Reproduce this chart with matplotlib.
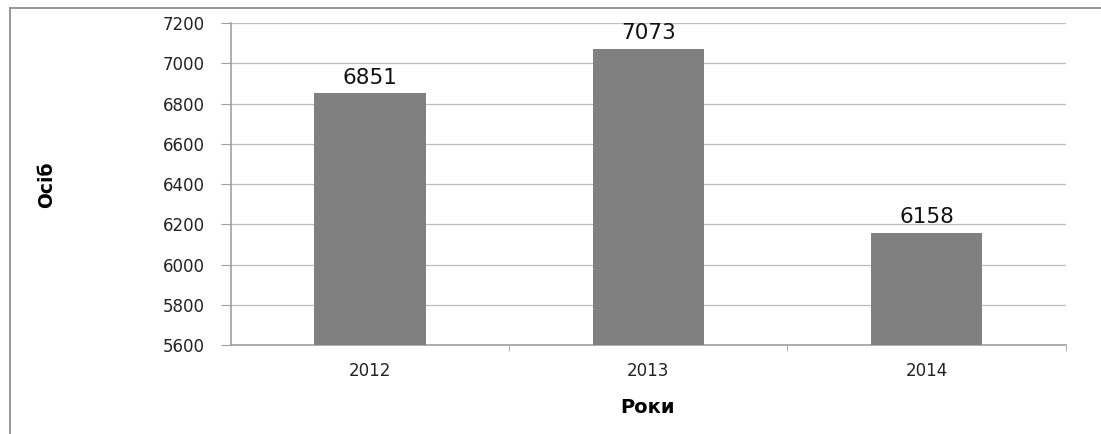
import matplotlib.pyplot as plt
from matplotlib.lines import Line2D

roky = ['2012', '2013', '2014']
osib = [6851, 7073, 6158]
y_ticks = [5600, 5800, 6000, 6200, 6400, 6600, 6800, 7000, 7200]

fig = plt.figure(figsize=(11.01, 4.34), dpi=100)
ax = fig.add_axes([0.2098, 0.205, 0.758, 0.742])

x = range(len(roky))
bars = ax.bar(x, osib, width=0.4, color='#808080', zorder=3)

ax.set_ylim(5600, 7200)
ax.set_xlim(-0.5, len(roky) - 0.5)
ax.set_yticks(y_ticks)
ax.set_yticklabels([str(v) for v in y_ticks], fontsize=12, color='#222222')
ax.set_xticks(list(x))
ax.set_xticklabels(roky, fontsize=12, color='#222222')
ax.set_xticks([0.5, 1.5, 2.5], minor=True)
ax.tick_params(axis='x', which='major', length=0, pad=12)
ax.tick_params(axis='x', which='minor', length=4, color='#a0a0a0', direction='out')
ax.tick_params(axis='y', length=7, color='#a0a0a0', pad=12)

ax.grid(axis='y', color='#bdbdbd', linewidth=0.9, zorder=0)
for s in ['top', 'right']:
    ax.spines[s].set_visible(False)
for s in ['left', 'bottom']:
    ax.spines[s].set_color('#a0a0a0')
    ax.spines[s].set_linewidth(1.2)

for b, v in zip(bars, osib):
    ax.annotate(str(v), (b.get_x() + b.get_width() / 2, v), xytext=(0, 4),
                textcoords='offset points', ha='center', va='bottom',
                fontsize=15.5, color='#111111')

fig.text(0.042, 0.574, 'Осіб', rotation=90, ha='center', va='center',
         fontsize=13.5, fontweight='bold')
fig.text(0.588, 0.062, 'Роки', ha='center', va='center',
         fontsize=14, fontweight='bold')

# рамка зліва і зверху
fig.add_artist(Line2D([0.0095, 0.0095], [0, 0.982], color='#909090', linewidth=1.3))
fig.add_artist(Line2D([0.0095, 1.0], [0.982, 0.982], color='#909090', linewidth=1.3))

fig.savefig('out.png', dpi=100)
